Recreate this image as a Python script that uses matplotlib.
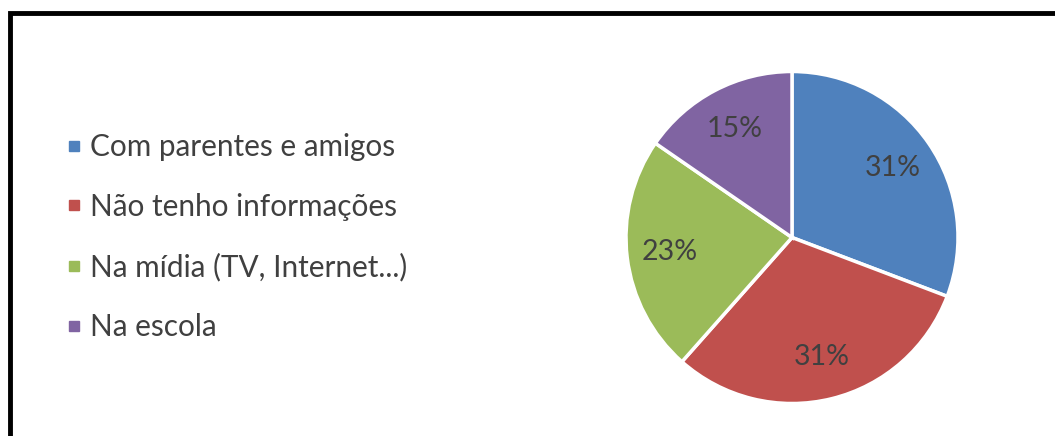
import matplotlib
matplotlib.use("Agg")
import matplotlib.pyplot as plt
from matplotlib.lines import Line2D
from matplotlib.patches import Rectangle

# Data (counts read as 4/13, 4/13, 3/13, 2/13)
labels = ['Com parentes e amigos', 'Não tenho informações',
          'Na mídia (TV, Internet...)', 'Na escola']
values = [4, 4, 3, 2]
colors = ['#4F81BD', '#C0504D', '#9BBB59', '#8064A2']

text_color = '#404040'
plt.rcParams['font.family'] = ['Lato', 'DejaVu Sans']

fig = plt.figure(figsize=(10.55, 4.36), dpi=100)

# pie axes, center at ~(792, 237) px, radius ~166 px
W, H = 1055, 436
r = 166
cx, cy = 792, 237.5
ax = fig.add_axes([(cx - r) / W, (H - cy - r) / H, 2 * r / W, 2 * r / H])
wedges, texts, autotexts = ax.pie(
    values, colors=colors, startangle=90, counterclock=False,
    autopct='%1.0f%%', pctdistance=0.74, radius=1,
    wedgeprops=dict(edgecolor='white', linewidth=2.5),
    textprops=dict(color=text_color, fontsize=20.5))
ax.set_xlim(-1, 1)
ax.set_ylim(-1, 1)
ax.set_aspect('equal')

# legend on the left
handles = [Line2D([], [], marker='s', linestyle='', color=c, markersize=7.5)
           for c in colors]
fig.legend(handles, labels, loc='center left', bbox_to_anchor=(65 / W, (H - 237) / H),
           frameon=False, fontsize=21.4, labelcolor=text_color,
           borderpad=0, borderaxespad=0,
           handlelength=0.6, handletextpad=0.24, labelspacing=1.07)

# black frame (cut off at right and bottom)
fig.patches.append(Rectangle((10 / W, -0.1), 1.2, 0.1 + (H - 13) / H,
                             transform=fig.transFigure, fill=False,
                             edgecolor='black', linewidth=3.5))

fig.savefig('out.png', dpi=100)
